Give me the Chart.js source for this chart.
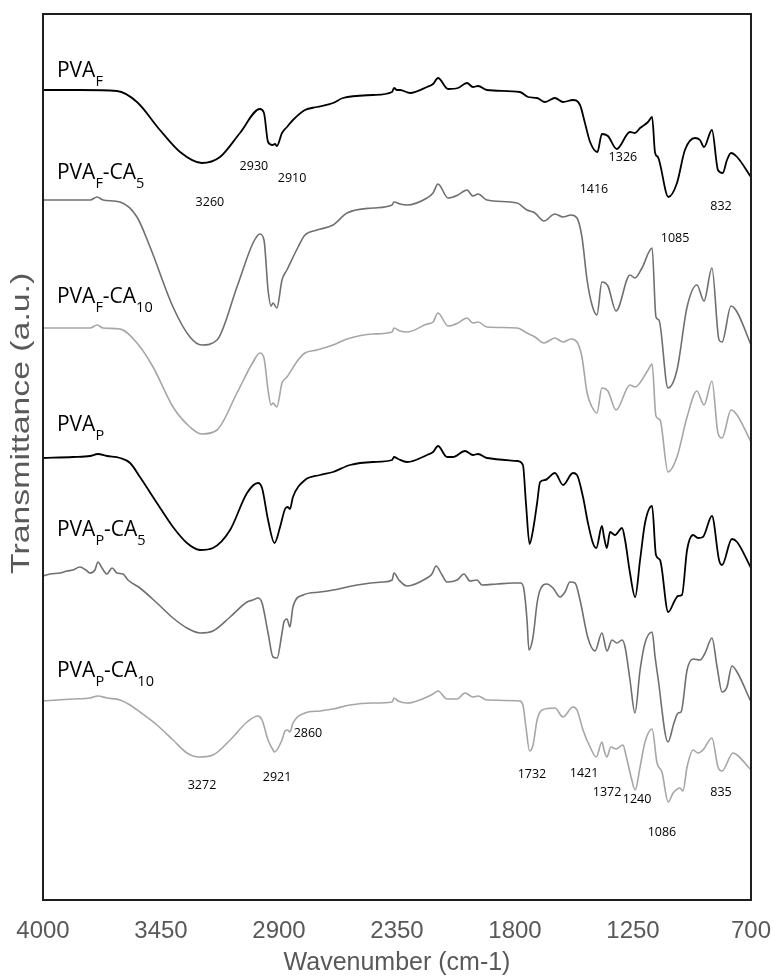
<!DOCTYPE html>
<html>
<head>
<meta charset="utf-8">
<script src="https://cdn.jsdelivr.net/npm/chart.js@4.4.1/dist/chart.umd.min.js"></script>
<style>
  html, body { margin: 0; padding: 0; background: #ffffff; }
  #wrap { width: 774px; height: 978px; }
</style>
</head>
<body>
<div id="wrap"><canvas id="ftir" width="774" height="978"></canvas></div>
<script>
// ---- Spectra: [wavenumber (cm-1), transmittance (a.u., stacked offsets included)] ----
const wavenumberTicks = [4000, 3450, 2900, 2350, 1800, 1250, 700];

const pvaF = [
  [4000,81.0],[3828,81.0],[3655,80.9],[3562,79.8],[3455,77.0],[3361,74.8],[3260,73.7],[3175,74.3],
  [3082,76.7],[2989,79.1],[2970,78.7],[2951,75.8],[2930,75.5],[2919,75.6],[2910,75.4],[2886,76.7],
  [2863,77.3],[2835,78.0],[2779,79.0],[2723,79.3],[2648,79.7],[2602,80.2],[2462,80.5],[2373,80.8],
  [2364,81.2],[2350,81.0],[2336,81.0],[2289,80.7],[2210,81.3],[2182,81.6],[2159,82.2],[2112,81.1],
  [2066,81.2],[2024,81.7],[1996,81.3],[1972,81.4],[1931,81.0],[1777,80.8],[1739,80.3],[1697,80.2],
  [1660,79.8],[1614,80.2],[1576,79.8],[1530,80.0],[1497,79.5],[1474,77.7],[1450,75.8],[1416,74.8],
  [1395,76.6],[1367,76.4],[1326,75.1],[1264,76.8],[1241,76.7],[1217,77.2],[1180,77.8],[1161,78.3],
  [1147,74.7],[1134,74.3],[1085,70.3],[1045,71.7],[1008,75.0],[961,76.2],[938,76.0],[919,75.3],
  [882,77.0],[854,73.0],[832,72.7],[812,74.0],[793,74.7],[765,74.3],[700,72.3]
];

const pvaFCA5 = [
  [4000,70.0],[3874,70.0],[3780,70.0],[3748,70.3],[3720,70.0],[3641,69.8],[3562,68.3],[3501,65.3],
  [3394,59.3],[3315,56.3],[3260,55.5],[3189,56.0],[3096,61.3],[3021,65.7],[2989,66.6],[2970,66.0],
  [2951,61.0],[2937,59.4],[2928,59.7],[2910,59.2],[2886,62.0],[2863,63.0],[2811,65.3],[2779,66.5],
  [2723,67.0],[2648,67.5],[2583,68.7],[2462,69.2],[2373,69.5],[2364,69.8],[2336,69.6],[2303,69.5],
  [2210,70.2],[2182,70.7],[2159,71.6],[2112,70.2],[2066,70.5],[2024,71.0],[1996,70.4],[1972,70.6],
  [1931,70.0],[1791,69.7],[1744,69.0],[1707,68.7],[1665,67.9],[1614,68.6],[1576,68.3],[1539,68.5],
  [1511,68.2],[1488,66.3],[1464,62.0],[1441,59.5],[1418,58.5],[1395,61.8],[1367,61.4],[1329,58.9],
  [1264,62.5],[1241,62.2],[1208,63.2],[1161,65.2],[1143,58.3],[1129,58.0],[1087,51.2],[1045,53.0],
  [998,59.3],[952,61.5],[919,59.9],[882,63.2],[849,56.0],[835,55.8],[793,59.4],[765,58.8],[700,55.5]
];

const pvaFCA10 = [
  [4000,57.2],[3874,57.2],[3780,57.2],[3748,57.5],[3720,57.2],[3641,57.1],[3562,55.7],[3487,53.3],
  [3394,49.3],[3315,47.3],[3260,46.6],[3189,47.0],[3096,50.7],[3021,53.8],[2989,54.7],[2970,54.2],
  [2951,51.0],[2937,49.5],[2928,49.7],[2910,49.3],[2886,51.7],[2863,52.3],[2811,54.0],[2779,54.7],
  [2723,55.0],[2648,55.5],[2583,56.1],[2462,56.6],[2373,56.8],[2364,57.2],[2336,56.9],[2303,56.8],
  [2210,57.6],[2182,57.8],[2159,58.7],[2112,57.4],[2066,57.7],[2024,58.2],[1996,57.7],[1972,57.8],
  [1931,57.3],[1791,57.2],[1744,56.7],[1707,56.3],[1665,55.7],[1614,56.2],[1576,55.8],[1539,56.1],
  [1511,55.8],[1488,54.3],[1464,50.7],[1441,49.3],[1418,48.7],[1395,51.2],[1367,50.9],[1329,49.0],
  [1264,51.5],[1241,51.3],[1180,53.0],[1161,53.6],[1143,48.4],[1124,48.0],[1087,42.8],[1045,44.3],
  [998,48.3],[952,50.9],[919,49.5],[882,51.9],[854,46.7],[835,46.2],[793,49.0],[765,48.5],[700,45.8]
];

const pvaP = [
  [4000,44.2],[3860,44.3],[3781,44.4],[3744,44.6],[3702,44.4],[3641,44.2],[3594,43.7],[3548,42.3],
  [3469,39.7],[3394,37.3],[3329,35.7],[3268,35.0],[3208,35.2],[3128,37.0],[3049,40.7],[2998,41.7],
  [2979,41.2],[2951,38.0],[2921,35.7],[2895,37.3],[2872,39.1],[2860,39.3],[2849,39.1],[2835,40.3],
  [2779,42.0],[2709,42.5],[2648,42.8],[2569,43.5],[2462,43.8],[2373,44.0],[2364,44.3],[2345,44.1],
  [2303,43.8],[2210,44.5],[2182,44.8],[2159,45.4],[2117,44.3],[2089,44.3],[2033,44.9],[1996,44.5],
  [1972,44.6],[1931,44.2],[1786,43.9],[1763,43.5],[1749,39.7],[1732,35.6],[1716,37.0],[1697,39.7],
  [1683,41.8],[1660,42.0],[1614,42.7],[1576,41.5],[1530,42.7],[1511,42.5],[1483,40.3],[1460,37.7],
  [1437,35.7],[1421,35.2],[1395,37.4],[1385,36.3],[1372,35.2],[1357,36.8],[1334,36.5],[1301,37.2],
  [1287,36.0],[1264,32.7],[1240,30.3],[1217,34.0],[1194,37.7],[1161,39.4],[1143,34.5],[1124,34.0],
  [1086,28.8],[1054,30.0],[1040,30.4],[1022,30.5],[998,35.0],[970,36.5],[947,36.2],[924,36.3],
  [882,38.4],[849,34.0],[835,33.5],[789,36.1],[765,35.8],[700,33.2]
];

const pvaPCA5 = [
  [4000,32.4],[3967,32.6],[3921,32.7],[3888,32.9],[3860,33.0],[3828,33.3],[3800,33.0],[3781,32.7],
  [3758,33.0],[3744,33.8],[3725,33.2],[3702,32.6],[3678,33.2],[3655,32.7],[3627,32.6],[3604,32.0],
  [3548,31.2],[3469,29.7],[3394,28.2],[3329,27.2],[3268,26.7],[3208,26.9],[3128,28.3],[3049,29.8],
  [3021,30.0],[2998,30.2],[2979,29.7],[2951,26.7],[2928,24.3],[2909,24.2],[2886,26.7],[2877,27.8],
  [2863,28.1],[2849,27.3],[2835,29.3],[2788,30.5],[2709,30.8],[2648,31.0],[2536,31.5],[2415,31.8],
  [2373,32.0],[2364,32.7],[2341,32.0],[2303,31.4],[2210,32.2],[2187,32.6],[2168,33.4],[2140,32.5],
  [2117,31.8],[2070,32.0],[2038,32.6],[2010,31.9],[1977,32.0],[1954,31.5],[1884,31.6],[1809,31.7],
  [1772,31.7],[1758,31.0],[1744,28.0],[1735,25.0],[1716,26.3],[1697,29.7],[1683,31.0],[1651,31.6],
  [1623,31.2],[1590,30.3],[1567,30.8],[1544,31.8],[1520,31.7],[1497,30.0],[1460,26.2],[1427,24.9],
  [1395,26.7],[1371,24.9],[1348,26.0],[1325,25.7],[1301,26.0],[1287,25.3],[1264,22.0],[1241,18.7],
  [1217,23.0],[1194,25.7],[1161,26.8],[1147,24.3],[1134,22.3],[1087,15.8],[1059,17.7],[1040,18.7],
  [1026,18.8],[998,23.0],[970,24.1],[938,24.0],[914,24.7],[882,26.2],[858,23.3],[835,20.8],
  [812,21.3],[789,23.4],[765,22.8],[700,19.8]
];

const pvaPCA10 = [
  [4000,19.9],[3860,20.1],[3781,20.2],[3744,20.4],[3702,20.2],[3641,20.0],[3594,19.5],[3548,18.8],
  [3469,17.5],[3394,16.0],[3329,14.7],[3272,14.3],[3208,14.5],[3128,16.0],[3049,17.8],[2998,18.4],
  [2979,18.0],[2951,16.0],[2928,15.0],[2921,14.8],[2886,16.0],[2872,16.9],[2860,17.0],[2849,16.8],
  [2835,17.7],[2779,18.7],[2709,18.9],[2648,19.1],[2569,19.5],[2462,19.7],[2373,19.8],[2364,20.2],
  [2345,19.9],[2303,19.7],[2210,20.3],[2182,20.6],[2159,20.9],[2117,20.1],[2070,20.1],[2033,20.7],
  [1996,20.3],[1972,20.4],[1931,20.0],[1777,19.9],[1763,19.5],[1749,17.3],[1732,14.9],[1716,15.5],
  [1697,18.0],[1674,19.0],[1614,19.2],[1576,18.3],[1530,19.3],[1511,19.0],[1483,17.0],[1450,15.3],
  [1421,14.3],[1395,15.8],[1385,15.0],[1372,14.3],[1353,15.3],[1329,15.1],[1297,15.5],[1283,14.5],
  [1259,12.3],[1240,11.0],[1217,13.3],[1194,15.8],[1161,17.1],[1138,13.7],[1115,12.8],[1086,9.8],
  [1063,10.7],[1031,11.2],[1017,10.9],[998,13.3],[970,15.0],[947,14.7],[924,15.0],[882,16.2],
  [854,13.3],[835,12.9],[784,14.7],[765,14.5],[700,13.0]
];

// Sample names: alternating normal / subscript text runs
const sampleNames = [
  ['PVA', 'F'],
  ['PVA', 'F', '-CA', '5'],
  ['PVA', 'F', '-CA', '10'],
  ['PVA', 'P'],
  ['PVA', 'P', '-CA', '5'],
  ['PVA', 'P', '-CA', '10']
];

// Band assignments written on the plot (cm-1)
const peaksPvaF = [3260, 2930, 2910, 1416, 1326, 1085, 832];
const peaksPvaPCA10 = [3272, 2921, 2860, 1732, 1421, 1372, 1240, 1086, 835];

// ---- Placement of the text annotations (wavenumber, a.u.) ----
const nameAnchors = [[3935, 82.3], [3935, 72.1], [3935, 59.7], [3935, 46.9], [3935, 36.4], [3935, 22.3]];
const peakAnchorsPvaF = [[3222, 69.8], [3017, 73.4], [2839, 72.2], [1432, 71.1], [1297, 74.3], [1054, 66.2], [840, 69.4]];
const peakAnchorsPvaPCA10 = [[3259, 11.5], [2909, 12.3], [2765, 16.7], [1721, 12.6], [1478, 12.7], [1371, 10.8], [1231, 10.1], [1115, 6.8], [840, 10.8]];

const spectra = [pvaF, pvaFCA5, pvaFCA10, pvaP, pvaPCA5, pvaPCA10];
const lineColors = ['#000000', '#6f6f6f', '#a6a6a6', '#000000', '#6f6f6f', '#a6a6a6'];
const axisGrey = '#595959';

const toPoints = arr => arr.map(([x, y]) => ({ x, y }));

const annotationPlugin = {
  id: 'ftirAnnotations',
  afterDraw(chart) {
    const { ctx, chartArea, scales: { x, y } } = chart;
    ctx.save();

    // plot frame
    ctx.strokeStyle = '#1e1e1e';
    ctx.lineWidth = 2;
    ctx.strokeRect(chartArea.left, chartArea.top, chartArea.right - chartArea.left, chartArea.bottom - chartArea.top);

    // sample names with subscripts
    ctx.fillStyle = '#000000';
    ctx.textBaseline = 'alphabetic';
    ctx.textAlign = 'left';
    sampleNames.forEach((runs, i) => {
      let px = x.getPixelForValue(nameAnchors[i][0]);
      const py = y.getPixelForValue(nameAnchors[i][1]);
      runs.forEach((run, k) => {
        const sub = k % 2 === 1;
        ctx.font = sub ? '14.5px "Open Sans"' : '21px "Open Sans"';
        ctx.fillText(run, px, sub ? py + 8.5 : py);
        px += ctx.measureText(run).width;
      });
    });

    // band labels
    ctx.font = '12.5px "Open Sans"';
    ctx.textAlign = 'center';
    ctx.textBaseline = 'middle';
    const drawPeaks = (values, anchors) => values.forEach((v, i) => {
      ctx.fillText(String(v), x.getPixelForValue(anchors[i][0]), y.getPixelForValue(anchors[i][1]));
    });
    drawPeaks(peaksPvaF, peakAnchorsPvaF);
    drawPeaks(peaksPvaPCA10, peakAnchorsPvaPCA10);

    // vertical axis title
    ctx.translate(22, chartArea.top + (chartArea.bottom - chartArea.top) * 0.462);
    ctx.rotate(-Math.PI / 2);
    ctx.scale(1.3, 1);
    ctx.font = '26px "Liberation Sans", Arial, sans-serif';
    ctx.fillStyle = axisGrey;
    ctx.fillText('Transmittance (a.u.)', 0, 0);
    ctx.restore();
  }
};

new Chart(document.getElementById('ftir'), {
  type: 'line',
  data: {
    datasets: spectra.map((s, i) => ({
      label: sampleNames[i].join(''),
      data: toPoints(s),
      borderColor: lineColors[i],
      borderWidth: i % 3 === 0 ? 1.8 : 1.6,
      pointRadius: 0,
      fill: false,
      cubicInterpolationMode: 'monotone'
    }))
  },
  options: {
    responsive: false,
    animation: false,
    events: [],
    layout: { padding: { left: 43, right: 23, top: 14, bottom: 0 } },
    plugins: { legend: { display: false }, tooltip: { enabled: false } },
    scales: {
      x: {
        type: 'linear',
        reverse: true,
        min: 700,
        max: 4000,
        afterBuildTicks: scale => { scale.ticks = wavenumberTicks.map(v => ({ value: v })); },
        afterFit: scale => {
          scale.paddingLeft = 0;
          scale.paddingRight = 0;
          scale.height = 78;
        },
        grid: { display: false, drawTicks: false },
        border: { display: false },
        ticks: {
          padding: 17,
          color: axisGrey,
          font: { family: '"Liberation Sans", Arial, sans-serif', size: 24 },
          maxRotation: 0,
          autoSkip: false,
          callback: v => String(v)
        },
        title: {
          display: true,
          text: 'Wavenumber (cm-1)',
          color: axisGrey,
          font: { family: '"Liberation Sans", Arial, sans-serif', size: 25 },
          padding: { top: 2, bottom: 0 }
        }
      },
      y: {
        type: 'linear',
        display: false,
        min: 0,
        max: 88.6
      }
    }
  },
  plugins: [annotationPlugin]
});
</script>
</body>
</html>
